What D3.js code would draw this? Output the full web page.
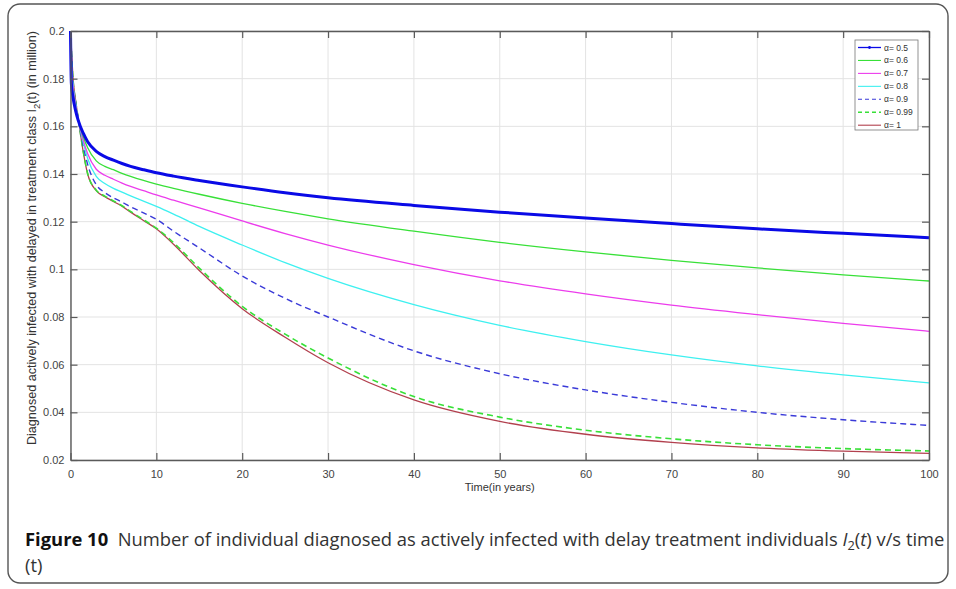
<!DOCTYPE html>
<html>
<head>
<meta charset="utf-8">
<script src="https://cdn.jsdelivr.net/npm/d3@7"></script>
<style>
  body { margin: 0; background: #fff; }
  svg { display: block; }
</style>
</head>
<body>
<svg id="chart" width="956" height="589"></svg>
<script>
// time points (years)
var tVals = [0, 0.1, 0.3, 0.6, 0.9, 1.5, 2, 3, 4, 5, 6, 7, 8.5, 10, 12, 15, 20, 25, 30, 40, 50, 60, 70, 80, 90, 100];

var a05  = [0.200, 0.178, 0.172, 0.1665, 0.1625, 0.1570, 0.1535, 0.1495, 0.1473, 0.1458, 0.1444, 0.1432, 0.1418, 0.1405, 0.1391, 0.1373, 0.1346, 0.1321, 0.1300, 0.1268, 0.1240, 0.1215, 0.1192, 0.1170, 0.1151, 0.1133];
var a06  = [0.200, 0.181, 0.174, 0.1675, 0.1627, 0.1555, 0.1510, 0.1455, 0.1432, 0.1418, 0.1403, 0.1390, 0.1373, 0.1358, 0.1340, 0.1315, 0.1277, 0.1243, 0.1212, 0.1160, 0.1113, 0.1073, 0.1038, 0.1006, 0.0977, 0.0951];
var a07  = [0.200, 0.184, 0.176, 0.1685, 0.1630, 0.1540, 0.1485, 0.1420, 0.1395, 0.1378, 0.1362, 0.1348, 0.1330, 0.1312, 0.1290, 0.1258, 0.1203, 0.1150, 0.1102, 0.1020, 0.0952, 0.0897, 0.0850, 0.0810, 0.0773, 0.0740];
var a08  = [0.200, 0.187, 0.177, 0.1692, 0.1630, 0.1530, 0.1465, 0.1390, 0.1360, 0.1340, 0.1324, 0.1308, 0.1286, 0.1264, 0.1232, 0.1180, 0.1102, 0.1028, 0.0962, 0.0852, 0.0765, 0.0697, 0.0641, 0.0595, 0.0557, 0.0524];
var a09  = [0.200, 0.190, 0.178, 0.1700, 0.1632, 0.1515, 0.1440, 0.1355, 0.1322, 0.1300, 0.1282, 0.1262, 0.1237, 0.1210, 0.1160, 0.1090, 0.0972, 0.0878, 0.0800, 0.0658, 0.0562, 0.0494, 0.0442, 0.0400, 0.0369, 0.0345];
var a099 = [0.200, 0.192, 0.179, 0.1705, 0.1633, 0.1492, 0.1402, 0.1332, 0.1307, 0.1287, 0.1267, 0.1243, 0.1208, 0.1173, 0.1112, 0.1005, 0.0845, 0.0728, 0.0628, 0.0466, 0.0380, 0.0325, 0.0289, 0.0264, 0.0248, 0.0238];
var a1   = [0.200, 0.193, 0.180, 0.1708, 0.1633, 0.1490, 0.1400, 0.1330, 0.1305, 0.1285, 0.1265, 0.1240, 0.1205, 0.1170, 0.1105, 0.0995, 0.0835, 0.0715, 0.0608, 0.0452, 0.0362, 0.0308, 0.0274, 0.0251, 0.0237, 0.0228];

var seriesNames = ["α= 0.5", "α= 0.6", "α= 0.7", "α= 0.8", "α= 0.9", "α= 0.99", "α= 1"];
var seriesValues = [a05, a06, a07, a08, a09, a099, a1];

var xTicks = [0, 10, 20, 30, 40, 50, 60, 70, 80, 90, 100];
var yTicks = [0.02, 0.04, 0.06, 0.08, 0.1, 0.12, 0.14, 0.16, 0.18, 0.2];

// line styles for each series (MATLAB-like)
var colors = ["#0a0ae6", "#38e038", "#ec3cec", "#3ef0f0", "#3a3ad8", "#38e038", "#b2404e"];
var widths = [3, 1.3, 1.3, 1.3, 1.4, 1.6, 1.3];
var dashes = [null, null, null, null, "6,4", "6,4", null];

var svg = d3.select("#chart");

// outer frame of the figure
svg.append("rect")
  .attr("x", 8).attr("y", 4)
  .attr("width", 940).attr("height", 579)
  .attr("rx", 12).attr("ry", 12)
  .attr("fill", "none")
  .attr("stroke", "#555")
  .attr("stroke-width", 1.4);

var plotLeft = 70.5, plotRight = 929, plotTop = 31, plotBottom = 460;

var xScale = d3.scaleLinear().domain([0, 100]).range([plotLeft, plotRight]);
var yScale = d3.scaleLinear().domain([0.02, 0.2]).range([plotBottom, plotTop]);

// grid
var grid = svg.append("g");
grid.selectAll(".gx")
  .data(xTicks)
  .enter()
  .append("line")
  .attr("x1", function(d) { return xScale(d); })
  .attr("x2", function(d) { return xScale(d); })
  .attr("y1", plotTop).attr("y2", plotBottom)
  .attr("stroke", "#e3e3e3");
grid.selectAll(".gy")
  .data(yTicks)
  .enter()
  .append("line")
  .attr("x1", plotLeft).attr("x2", plotRight)
  .attr("y1", function(d) { return yScale(d); })
  .attr("y2", function(d) { return yScale(d); })
  .attr("stroke", "#e3e3e3");

// curves
var line = d3.line()
  .x(function(d) { return xScale(d[0]); })
  .y(function(d) { return yScale(d[1]); })
  .curve(d3.curveMonotoneX);

var plot = svg.append("g");
// draw thick blue last so it stays on top like in the figure
var order = [6, 5, 4, 3, 2, 1, 0];
order.forEach(function(i) {
  var pts = tVals.map(function(t, j) { return [t, seriesValues[i][j]]; });
  plot.append("path")
    .attr("d", line(pts))
    .attr("fill", "none")
    .attr("stroke", colors[i])
    .attr("stroke-width", widths[i])
    .attr("stroke-dasharray", dashes[i]);
});

// axes, ticks pointing inward, box all round
function styleAxis(g) {
  g.selectAll(".domain").attr("stroke", "#5a5a5a").attr("stroke-width", 1.4);
  g.selectAll(".tick line").attr("stroke", "#5a5a5a").attr("stroke-width", 1.2);
  g.selectAll(".tick text")
    .attr("fill", "#444")
    .style("font-family", "'Liberation Sans', Arial, sans-serif")
    .style("font-size", "11px");
}

var xAxis = d3.axisBottom(xScale).tickValues(xTicks).tickSizeInner(-7).tickSizeOuter(0).tickPadding(10);
var yAxis = d3.axisLeft(yScale).tickValues(yTicks).tickSizeInner(-7).tickSizeOuter(0).tickPadding(6)
  .tickFormat(function(d) { return String(+d.toFixed(2)); });

svg.append("g").attr("transform", "translate(0," + plotBottom + ")").call(xAxis).call(styleAxis);
svg.append("g").attr("transform", "translate(" + plotLeft + ",0)").call(yAxis).call(styleAxis);
svg.append("g").attr("transform", "translate(0," + plotTop + ")")
  .call(d3.axisTop(xScale).tickValues(xTicks).tickSizeInner(-7).tickSizeOuter(0).tickFormat(""))
  .call(styleAxis);
svg.append("g").attr("transform", "translate(" + plotRight + ",0)")
  .call(d3.axisRight(yScale).tickValues(yTicks).tickSizeInner(-7).tickSizeOuter(0).tickFormat(""))
  .call(styleAxis);

// axis labels
svg.append("text")
  .attr("x", (plotLeft + plotRight) / 2)
  .attr("y", 491)
  .attr("text-anchor", "middle")
  .attr("fill", "#333")
  .style("font-family", "'Liberation Sans', Arial, sans-serif")
  .style("font-size", "11px")
  .text("Time(in years)");

var yLab = svg.append("text")
  .attr("transform", "translate(36,238) rotate(-90)")
  .attr("text-anchor", "middle")
  .attr("fill", "#333")
  .style("font-family", "'Liberation Sans', Arial, sans-serif")
  .style("font-size", "12.6px");
yLab.append("tspan").text("Diagnosed actively infected with delayed in treatment class I");
yLab.append("tspan").attr("dy", 4).style("font-size", "9.5px").text("2");
yLab.append("tspan").attr("dy", -4).text("(t) (in million)");

// legend
var legend = svg.append("g");
legend.append("rect")
  .attr("x", 855).attr("y", 40)
  .attr("width", 63).attr("height", 90)
  .attr("fill", "#fff")
  .attr("stroke", "#777")
  .attr("stroke-width", 0.8);

seriesNames.forEach(function(name, i) {
  var y = 47.5 + i * 12.95;
  legend.append("line")
    .attr("x1", 858).attr("x2", 881)
    .attr("y1", y).attr("y2", y)
    .attr("stroke", colors[i])
    .attr("stroke-width", i == 0 ? 1.3 : widths[i] > 1.5 ? 1.4 : 1.1)
    .attr("stroke-dasharray", dashes[i] ? "4,3" : null);
  if (i == 0) {
    legend.append("circle").attr("cx", 869.5).attr("cy", y).attr("r", 1.4).attr("fill", colors[0]);
  }
  legend.append("text")
    .attr("x", 884).attr("y", y + 3)
    .attr("fill", "#333")
    .style("font-family", "'Liberation Sans', Arial, sans-serif")
    .style("font-size", "8.5px")
    .text(name);
});

// caption
var cap = svg.append("text")
  .attr("x", 25).attr("y", 546)
  .attr("fill", "#333")
  .style("font-family", "'Open Sans', 'Noto Sans', sans-serif")
  .style("font-size", "19px");
cap.append("tspan").style("font-weight", "bold").attr("fill", "#111").text("Figure 10");
cap.append("tspan").text("\u00a0 Number of individual diagnosed as actively infected with delay treatment individuals ");
cap.append("tspan").style("font-style", "italic").text("I");
cap.append("tspan").attr("dy", 4).style("font-size", "13px").text("2");
cap.append("tspan").attr("dy", -4).text("(");
cap.append("tspan").style("font-style", "italic").text("t");
cap.append("tspan").text(") v/s time");

// squeeze font so the line ends where the original does
var w = cap.node().getComputedTextLength();
var fs = 19 * 920 / w;
cap.style("font-size", fs + "px");
cap.selectAll("tspan").filter(function() { return d3.select(this).text() == "2"; })
  .style("font-size", (fs * 0.7) + "px");

svg.append("text")
  .attr("x", 25).attr("y", 572)
  .attr("fill", "#333")
  .style("font-family", "'Open Sans', 'Noto Sans', sans-serif")
  .style("font-size", fs + "px")
  .text("(t)");
</script>
</body>
</html>
